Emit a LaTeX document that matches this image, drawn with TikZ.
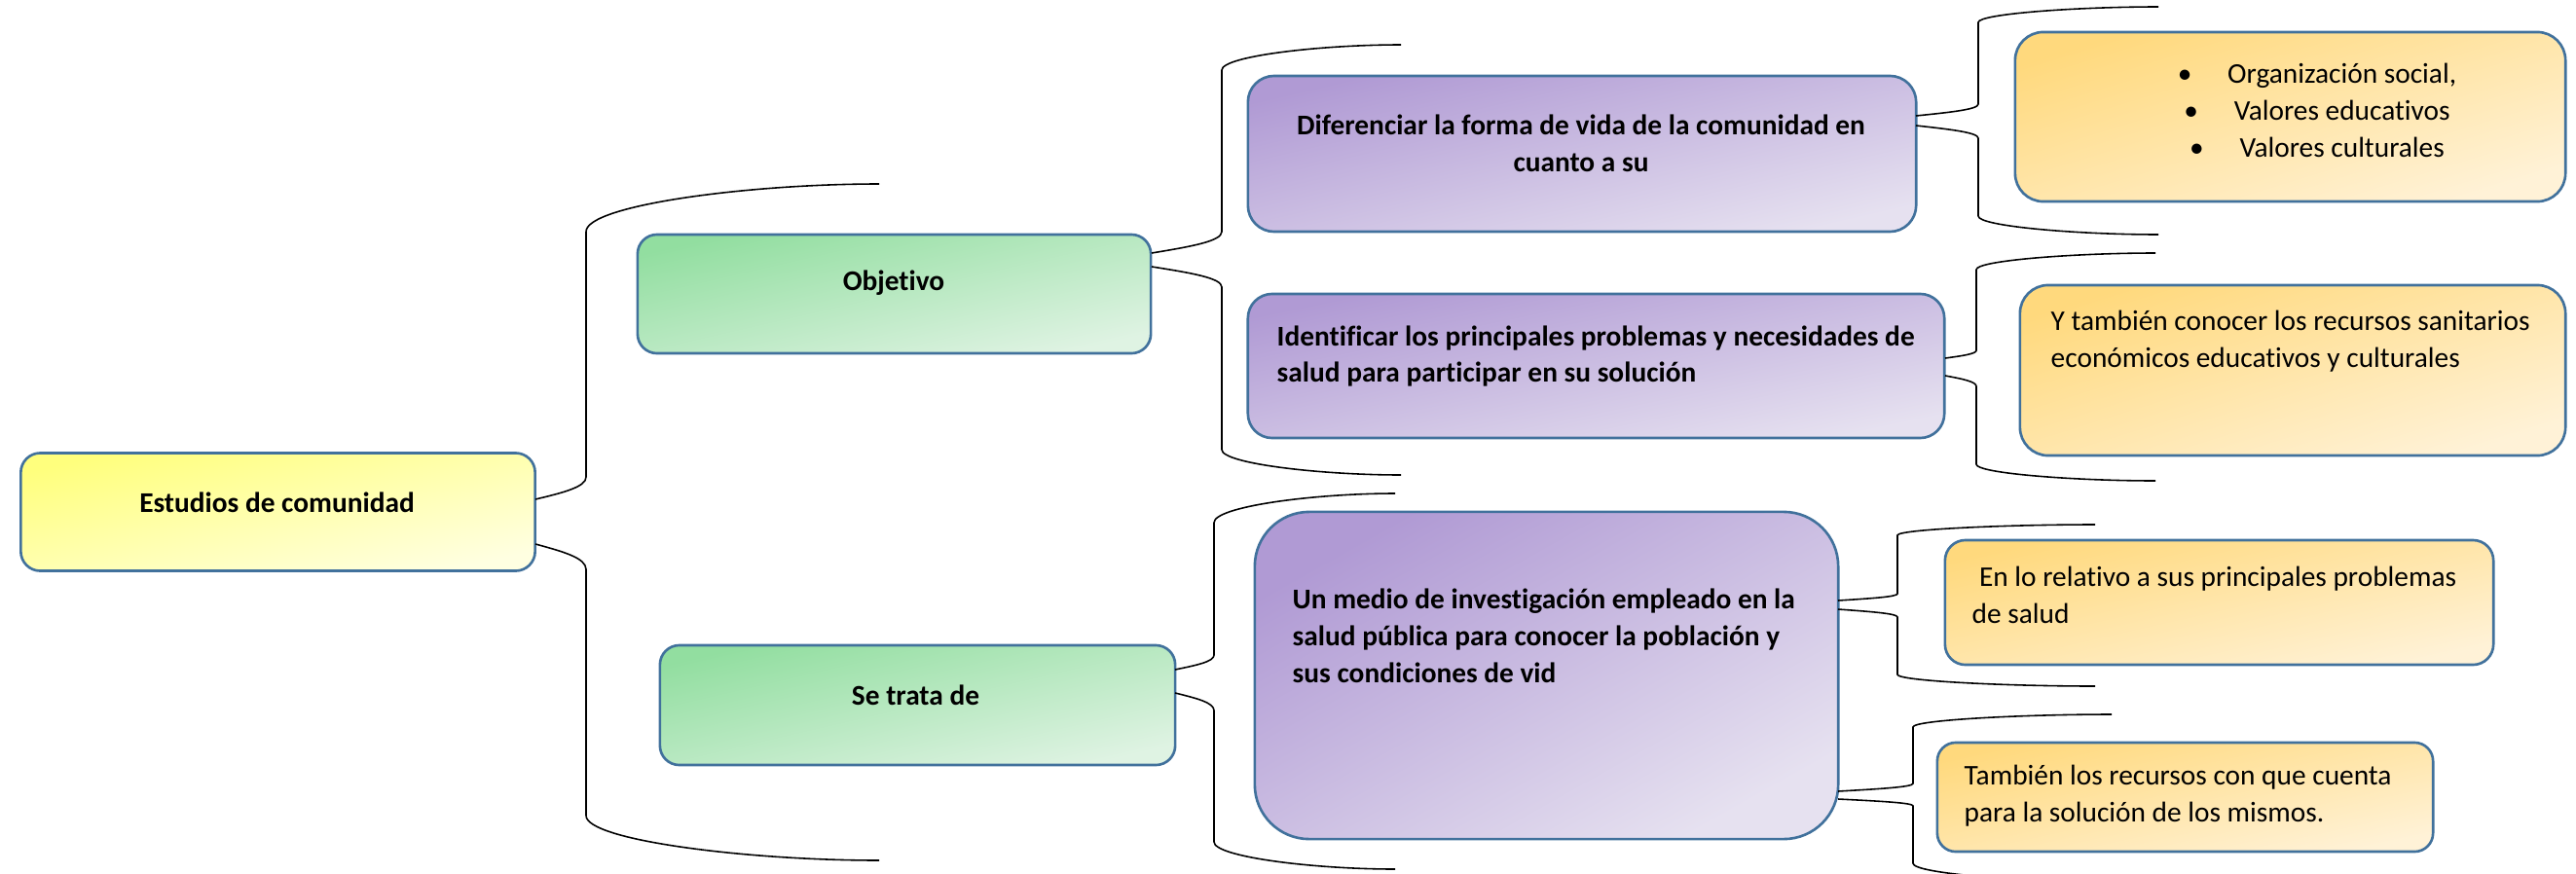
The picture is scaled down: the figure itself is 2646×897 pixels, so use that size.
\documentclass[tikz,border=0pt]{standalone}
\usepackage{fontspec}
\setmainfont{Carlito}[Ligatures=NoCommon]
\definecolor{bordc}{RGB}{65,113,156}
\definecolor{ytop}{RGB}{255,255,125}
\definecolor{ybot}{RGB}{255,255,225}
\definecolor{gtop}{RGB}{146,222,160}
\definecolor{gbot}{RGB}{223,243,227}
\definecolor{ptop}{RGB}{176,154,212}
\definecolor{pbot}{RGB}{230,225,240}
\definecolor{otop}{RGB}{255,217,125}
\definecolor{obot}{RGB}{255,242,215}
\tikzset{
  box/.style={draw=bordc, line width=0.75pt, inner sep=0pt},
  ybox/.style={box, top color=ytop, bottom color=ybot, shading angle=#1},
  gbox/.style={box, top color=gtop, bottom color=gbot, shading angle=#1},
  pbox/.style={box, top color=ptop, bottom color=pbot, shading angle=#1},
  obox/.style={box, top color=otop, bottom color=obot, shading angle=#1},
  txt/.style={inner sep=0pt, font=\fontsize{8.35}{10.8}\selectfont},
  btxt/.style={inner sep=0pt, font=\fontsize{8.35}{10.8}\selectfont\bfseries},
  bracel/.style={draw=black, line width=0.45pt},
}
\newcommand\hbrace[7]{%
  \draw[bracel] (#1,#2) .. controls ({#1+0.55*(#3-#1)},{#2+0.3*(#4-#2)}) and (#3,{#4+0.45*(#2-#4)}) .. (#3,#4)
    -- (#3,#5) .. controls (#3,{#5+0.55*(#7-#5)}) and ({#3+0.55*(#6-#3)},#7) .. (#6,#7);}
\begin{document}
\begin{tikzpicture}[x=0.01cm,y=-0.01cm]
\useasboundingbox (0,0) rectangle (2646,897);
% boxes
\node[ybox=12.9, rounded corners=0.2cm, minimum width=5.28cm, minimum height=1.21cm] (est) at (285.5,526) {};
\node[gbox=13.0, rounded corners=0.2cm, minimum width=5.27cm, minimum height=1.22cm] (obj) at (918.5,302) {};
\node[gbox=13.1, rounded corners=0.2cm, minimum width=5.29cm, minimum height=1.23cm] (se) at (942.5,724.5) {};
\node[pbox=13.1, rounded corners=0.27cm, minimum width=6.86cm, minimum height=1.60cm] (dif) at (1625,158) {};
\node[pbox=11.7, rounded corners=0.25cm, minimum width=7.15cm, minimum height=1.48cm] (ide) at (1639.5,376) {};
\node[pbox=29.3, rounded corners=0.56cm, minimum width=5.99cm, minimum height=3.36cm] (med) at (1588.5,694) {};
\node[obox=17.1, rounded corners=0.29cm, minimum width=5.65cm, minimum height=1.74cm] (org) at (2352.5,120) {};
\node[obox=17.4, rounded corners=0.29cm, minimum width=5.60cm, minimum height=1.75cm] (ytam) at (2355,380.5) {};
\node[obox=12.8, rounded corners=0.21cm, minimum width=5.63cm, minimum height=1.28cm] (enlo) at (2279.5,619) {};
\node[obox=12.4, rounded corners=0.19cm, minimum width=5.09cm, minimum height=1.12cm] (tamb) at (2244.5,819) {};
% texts
\node[btxt] (est-t) at (284.5,516) {Estudios de comunidad};
\node[btxt] (obj-t) at (918,291) {Objetivo};
\node[btxt] (se-t) at (940.5,714) {Se trata de};
\node[btxt, align=center] (dif-t) at (1624,147.5) {Diferenciar la forma de vida de la comunidad en\\cuanto a su};
\node[btxt, align=left, anchor=west] (ide-t) at (1311,366) {Identificar los principales problemas y necesidades de\\salud para participar en su solución};
\node[btxt, align=left, anchor=west] (med-t) at (1327,653.5) {Un medio de investigación empleado en la\\salud pública para conocer la población y\\sus condiciones de vid};
\node[txt, align=center] (org-t) at (2380,113) {\textbullet\hspace{1.25em}Organización social,\\\textbullet\hspace{1.25em}Valores educativos\\\textbullet\hspace{1.25em}Valores culturales};
\node[txt, align=left, anchor=west] (ytam-t) at (2106,351) {Y también conocer los recursos sanitarios\\económicos educativos y culturales};
\node[txt, align=left, anchor=west] (enlo-t) at (2025,611.5) {\hspace{0.25em}En lo relativo a sus principales problemas\\de salud};
\node[txt, align=left, anchor=west] (tamb-t) at (2017,818) {También los recursos con que cuenta\\para la solución de los mismos.};
% braces
\hbrace{550}{513}{602}{490}{238}{903}{189}
\hbrace{550}{559}{602}{585}{838}{903}{884}
\hbrace{1183}{260}{1255}{238}{72}{1439}{46}
\hbrace{1183}{274}{1255}{295}{462}{1439}{488}
\hbrace{1207}{688}{1247}{673}{537}{1433}{507}
\hbrace{1207}{712}{1247}{730}{865}{1433}{893}
\hbrace{1968}{119}{2032}{107}{23}{2217}{7}
\hbrace{1968}{129}{2032}{142}{222}{2217}{241}
\hbrace{1998}{368}{2030}{360}{277}{2214}{260}
\hbrace{1998}{386}{2030}{397}{477}{2214}{494}
\hbrace{1888}{617}{1949}{610}{550}{2152}{539}
\hbrace{1888}{626}{1949}{634}{693}{2152}{705}
\hbrace{1888}{813}{1965}{805}{747}{2169}{734}
\hbrace{1888}{821}{1965}{828}{887}{2169}{906}
\end{tikzpicture}
\end{document}
